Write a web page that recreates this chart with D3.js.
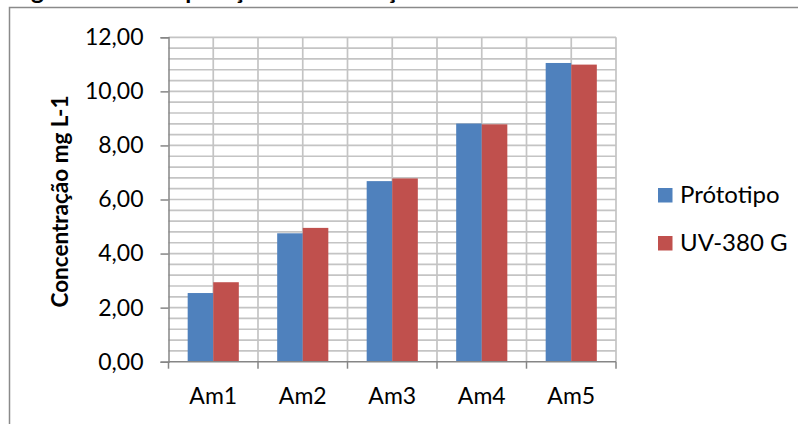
<!DOCTYPE html>
<html>
<head>
<meta charset="utf-8">
<script src="https://cdn.jsdelivr.net/npm/d3@7"></script>
<style>
  html, body { margin: 0; padding: 0; background: #fff; }
  svg { display: block; }
  text { font-family: Lato, "Open Sans", sans-serif; fill: #000; }
</style>
</head>
<body>
<script>
// Sample concentrations measured by each instrument
const categories = ["Am1", "Am2", "Am3", "Am4", "Am5"];
const seriesNames = ["Prótotipo", "UV-380 G"];
const prototipo = [2.54, 4.75, 6.68, 8.81, 11.05];
const uv380 = [2.94, 4.95, 6.78, 8.78, 10.99];
const yTicks = [0, 2, 4, 6, 8, 10, 12];
const colors = ["#4F81BD", "#C0504D"];
const titleText = "Figura 06 - Comparação concentrações obtidas";
const yTitle = "Concentração mg L-1";

const W = 798, H = 424;
const svg = d3.select("body").append("svg").attr("width", W).attr("height", H);

// Document caption above the chart frame (only its lower part sits on the page)
svg.append("text")
  .attr("x", 11).attr("y", -1)
  .attr("font-weight", "bold").attr("font-size", 24.5)
  .text(titleText);

// Chart frame
svg.append("path")
  .attr("d", `M9.5,${H + 5} V7.5 H${W + 5}`)
  .attr("fill", "none").attr("stroke", "#8a8a8a").attr("stroke-width", 1.5);

const plot = { left: 168.5, right: 616, top: 37.3, bottom: 361.7 };

const x = d3.scaleBand().domain(categories).range([plot.left, plot.right]).paddingInner(0).paddingOuter(0);
const y = d3.scaleLinear().domain([0, 12]).range([plot.bottom, plot.top]);

const loc = d3.formatLocale({ decimal: ",", thousands: ".", grouping: [3], currency: ["", ""] });
const fmt = loc.format(".2f");

// Gridlines: horizontal every 0.4, vertical at category edges and centres
const grid = svg.append("g").attr("stroke", "#c4c4c4").attr("stroke-width", 1.7);
d3.range(1, 31).map(i => i * 0.4).forEach(v => {
  grid.append("line").attr("x1", plot.left).attr("x2", plot.right)
    .attr("y1", y(v)).attr("y2", y(v));
});
const vx = [];
categories.forEach(c => { vx.push(x(c) + x.bandwidth() / 2); vx.push(x(c) + x.bandwidth()); });
vx.forEach(px => {
  grid.append("line").attr("x1", px).attr("x2", px)
    .attr("y1", plot.top).attr("y2", plot.bottom);
});

// Bars: two series, gap width 150%
const barW = x.bandwidth() / 3.5;
const series = [prototipo, uv380];
series.forEach((vals, si) => {
  svg.append("g").selectAll("rect").data(vals).join("rect")
    .attr("x", (d, i) => x(categories[i]) + x.bandwidth() / 2 - barW + si * barW)
    .attr("y", d => y(d))
    .attr("width", barW)
    .attr("height", d => y(0) - y(d))
    .attr("fill", colors[si]);
});

// Y axis
const yAxis = svg.append("g").attr("transform", `translate(${plot.left},0)`)
  .call(d3.axisLeft(y).tickValues(yTicks).tickFormat(fmt).tickSize(8).tickPadding(17));
yAxis.select(".domain").attr("stroke", "#868686").attr("stroke-width", 1.5);
yAxis.selectAll(".tick line").attr("stroke", "#868686").attr("stroke-width", 1.5);
yAxis.selectAll(".tick text").attr("font-size", 23).attr("font-family", "Lato").attr("fill", "#000");

// X axis: ticks on category boundaries
const xAxis = svg.append("g").attr("transform", `translate(0,${plot.bottom})`)
  .call(d3.axisBottom(x).tickSize(0).tickPadding(26));
xAxis.select(".domain").remove();
xAxis.append("line").attr("x1", plot.left).attr("x2", plot.right)
  .attr("stroke", "#868686").attr("stroke-width", 1.5);
[plot.left, ...categories.map(c => x(c) + x.bandwidth())].forEach(px => {
  xAxis.append("line").attr("x1", px).attr("x2", px).attr("y1", 0).attr("y2", 7)
    .attr("stroke", "#868686").attr("stroke-width", 1.5);
});
xAxis.selectAll(".tick text").attr("font-size", 23).attr("font-family", "Lato").attr("fill", "#000")
  .attr("dy", "0.71em");

// Y axis title
svg.append("text")
  .attr("transform", `translate(68,${(plot.top + plot.bottom) / 2 + 2}) rotate(-90)`)
  .attr("text-anchor", "middle").attr("font-weight", "bold").attr("font-size", 22.5)
  .text(yTitle);

// Legend
const legend = svg.append("g");
seriesNames.forEach((name, i) => {
  const ly = 195 + i * 48;
  legend.append("rect").attr("x", 658).attr("y", ly - 7).attr("width", 14.5).attr("height", 14.5)
    .attr("fill", colors[i]);
  legend.append("text").attr("x", 680).attr("y", ly).attr("dy", "0.35em")
    .attr("font-size", 24).text(name);
});
</script>
</body>
</html>
